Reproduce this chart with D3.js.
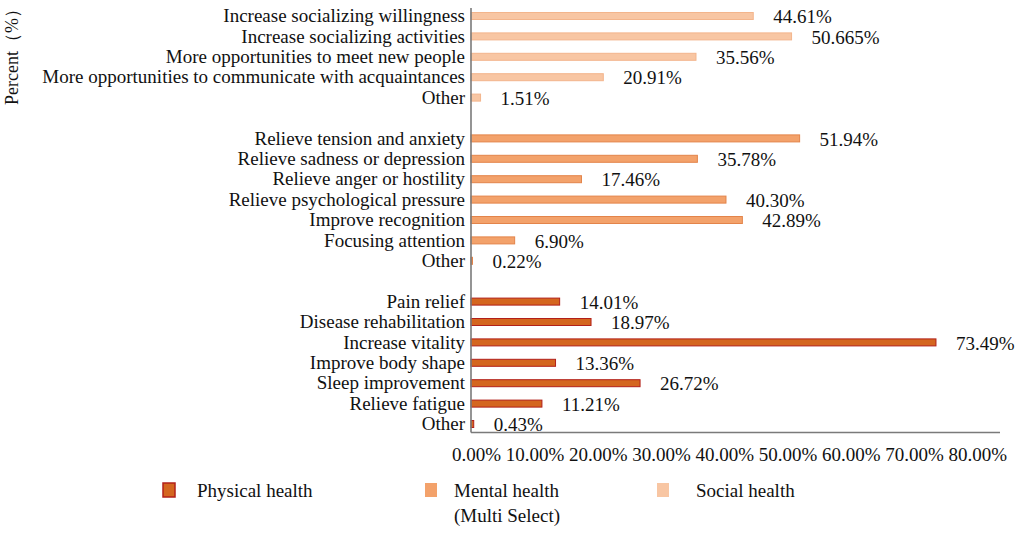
<!DOCTYPE html>
<html>
<head>
<meta charset="utf-8">
<script src="https://cdn.jsdelivr.net/npm/d3@7"></script>
<style>
  body { margin: 0; background: #fff; }
  text { font-family: "Liberation Serif", "Times New Roman", serif; fill: #111; }
</style>
</head>
<body>
<div id="chart"></div>
<script>
// categories per group, top to bottom
const socialCats = ["Increase socializing willingness", "Increase socializing activities",
    "More opportunities to meet new people", "More opportunities to communicate with acquaintances", "Other"];
const socialVals = [44.61, 50.665, 35.56, 20.91, 1.51];

const mentalCats = ["Relieve tension and anxiety", "Relieve sadness or depression", "Relieve anger or hostility",
    "Relieve psychological pressure", "Improve recognition", "Focusing attention", "Other"];
const mentalVals = [51.94, 35.78, 17.46, 40.30, 42.89, 6.90, 0.22];

const physicalCats = ["Pain relief", "Disease rehabilitation", "Increase vitality", "Improve body shape",
    "Sleep improvement", "Relieve fatigue", "Other"];
const physicalVals = [14.01, 18.97, 73.49, 13.36, 26.72, 11.21, 0.43];

const xTicks = [0, 10, 20, 30, 40, 50, 60, 70, 80];
const legendItems = ["Physical health", "Mental health", "Social health"];

const colors = {
    social:   { fill: "#f8c6a3", stroke: "#f3b58c" },
    mental:   { fill: "#f3a26b", stroke: "#e3844a" },
    physical: { fill: "#d4661f", stroke: "#b2201a" }
};

// build rows (blank spacer rows between groups)
var rows = [];
socialCats.forEach((c, i) => rows.push({ key: "s" + i, cat: c, value: socialVals[i], group: "social" }));
rows.push({ key: "gap1", blank: true });
mentalCats.forEach((c, i) => rows.push({ key: "m" + i, cat: c, value: mentalVals[i], group: "mental" }));
rows.push({ key: "gap2", blank: true });
physicalCats.forEach((c, i) => rows.push({ key: "p" + i, cat: c, value: physicalVals[i], group: "physical" }));
const bars = rows.filter(d => !d.blank);

const width = 1021, height = 535;
const x0 = 471, axisY = 432.5;
const fontSize = "19px";

const svg = d3.select("#chart").append("svg")
    .attr("width", width)
    .attr("height", height);

const x = d3.scaleLinear().domain([0, 80]).range([x0, x0 + 80 * 6.327]);
const y = d3.scalePoint().domain(rows.map(d => d.key)).range([16, 424]);
const barH = 7;

const fmt = v => {
    const s = String(v);
    return (s.split(".")[1] || "").length > 2 ? s + "%" : v.toFixed(2) + "%";
};

// bars
svg.append("g").selectAll("rect")
    .data(bars)
    .enter().append("rect")
    .attr("x", x(0))
    .attr("y", d => y(d.key) - barH / 2)
    .attr("width", d => Math.max(1.5, x(d.value) - x(0)))
    .attr("height", barH)
    .attr("fill", d => colors[d.group].fill)
    .attr("stroke", d => colors[d.group].stroke)
    .attr("stroke-width", 1);

// category labels
svg.append("g").selectAll("text")
    .data(bars)
    .enter().append("text")
    .attr("x", x0 - 6)
    .attr("y", d => y(d.key))
    .attr("dy", "0.33em")
    .attr("text-anchor", "end")
    .style("font-size", fontSize)
    .text(d => d.cat);

// value labels
svg.append("g").selectAll("text")
    .data(bars)
    .enter().append("text")
    .attr("x", d => x(d.value) + 20)
    .attr("y", d => y(d.key) + 1)
    .attr("dy", "0.33em")
    .style("font-size", fontSize)
    .text(d => fmt(d.value));

// axes lines
svg.append("line")
    .attr("x1", x0).attr("x2", x0)
    .attr("y1", 8).attr("y2", axisY)
    .attr("stroke", "#7a7a7a").attr("stroke-width", 1.6);
svg.append("line")
    .attr("x1", x0).attr("x2", 1000)
    .attr("y1", axisY).attr("y2", axisY)
    .attr("stroke", "#7a7a7a").attr("stroke-width", 1.6);

// tick labels (right aligned, excel style)
svg.append("g").selectAll("text")
    .data(xTicks)
    .enter().append("text")
    .attr("x", d => x(d) + 30)
    .attr("y", 455)
    .attr("dy", "0.33em")
    .attr("text-anchor", "end")
    .style("font-size", fontSize)
    .text(d => d.toFixed(2) + "%");

// y title
svg.append("text")
    .attr("transform", "translate(18,105) rotate(-90)")
    .style("font-size", "18px")
    .text("Percent（%）");

// legend
const legendPos = [
    { x: 163, key: "physical", tx: 197 },
    { x: 425, key: "mental", tx: 454 },
    { x: 657, key: "social", tx: 696 }
];
const legend = svg.append("g").selectAll("g")
    .data(legendItems)
    .enter().append("g");
legend.append("rect")
    .attr("x", (d, i) => legendPos[i].x)
    .attr("y", 483)
    .attr("width", 12)
    .attr("height", 14)
    .attr("fill", (d, i) => colors[legendPos[i].key].fill)
    .attr("stroke", (d, i) => legendPos[i].key === "physical" ? colors.physical.stroke : "none")
    .attr("stroke-width", 1.5);
legend.append("text")
    .attr("x", (d, i) => legendPos[i].tx)
    .attr("y", 497)
    .style("font-size", fontSize)
    .text(d => d);

svg.append("text")
    .attr("x", 454)
    .attr("y", 522)
    .style("font-size", fontSize)
    .text("(Multi Select)");
</script>
</body>
</html>
